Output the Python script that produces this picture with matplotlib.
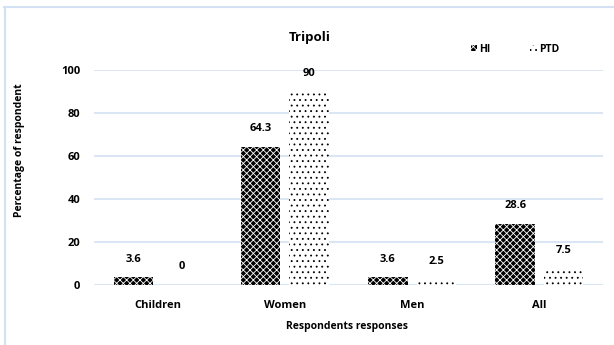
import matplotlib
matplotlib.use('Agg')
import matplotlib.pyplot as plt
import matplotlib.patches as mpatches
import numpy as np
from matplotlib.lines import Line2D

# Data
categories = ['Children', 'Women', 'Men', 'All']
hi_values = [3.6, 64.3, 3.6, 28.6]
ptd_values = [0, 90, 2.5, 7.5]
series_names = ['HI', 'PTD']

plt.rcParams['font.family'] = ['Open Sans', 'DejaVu Sans']
plt.rcParams['font.weight'] = 'bold'
plt.rcParams['hatch.linewidth'] = 0.6

HI_HATCH = 'xxxxx'
PTD_HATCH = '...'

W, H = 614, 345
fig = plt.figure(figsize=(W / 100, H / 100), dpi=100)
ax = fig.add_axes([94 / W, 1 - 285 / H, (603 - 94) / W, (285 - 70) / H])

x = np.arange(len(categories))
width = 0.31
offset = 0.19

bars_hi = ax.bar(x - offset, hi_values, width, color='black', edgecolor='white',
                 hatch=HI_HATCH, linewidth=0, zorder=3)
bars_ptd = ax.bar(x + offset, ptd_values, width, color='white', edgecolor='black',
                  hatch=PTD_HATCH, linewidth=0, zorder=3)

# value labels above the bars
for bars in [bars_hi, bars_ptd]:
    for bar in bars:
        h = bar.get_height()
        ax.annotate(f'{h:g}', (bar.get_x() + bar.get_width() / 2, h),
                    xytext=(0, 13), textcoords='offset points',
                    ha='center', va='center', fontsize=8,
                    fontweight='bold', clip_on=False)

ax.set_ylim(0, 100)
ax.set_xlim(-0.5, len(categories) - 0.5)
ax.set_yticks(np.arange(0, 101, 20))
ax.set_xticks(x)
ax.set_xticklabels(categories, fontsize=8, fontweight='bold')
ax.tick_params(axis='y', labelsize=8, length=0, pad=10)
ax.tick_params(axis='x', length=0, pad=11)
ax.grid(axis='y', color='#d3e1f2', linewidth=1.2, zorder=0)
for s in ax.spines.values():
    s.set_visible(False)

fig.text(310 / W, 1 - 38 / H, 'Tripoli', ha='center', va='center',
         fontsize=9.5, fontweight='bold')
fig.text(347 / W, 1 - 327 / H, 'Respondents responses', ha='center', va='center',
         fontsize=7.5, fontweight='bold')
fig.text(20 / W, 1 - 150 / H, 'Percentage of respondent', ha='center', va='center',
         rotation=90, fontsize=7.5, fontweight='bold')

handles = [mpatches.Patch(facecolor='black', edgecolor='white', hatch=HI_HATCH, linewidth=0),
           mpatches.Patch(facecolor='white', edgecolor='black', hatch=PTD_HATCH, linewidth=0)]
fig.legend(handles, series_names, loc='center', bbox_to_anchor=(515 / W, 1 - 49 / H),
           ncol=2, frameon=False, fontsize=7.5, handlelength=0.6, handleheight=0.6,
           handletextpad=0.2, columnspacing=3.8)

# light frame on top and left edges
fig.add_artist(Line2D([4 / W, 614 / W], [1 - 7 / H, 1 - 7 / H], color='#d3e1f2', linewidth=1.5))
fig.add_artist(Line2D([4.5 / W, 4.5 / W], [0, 1 - 7 / H], color='#d3e1f2', linewidth=1.5))

fig.savefig('out.png', dpi=100)
